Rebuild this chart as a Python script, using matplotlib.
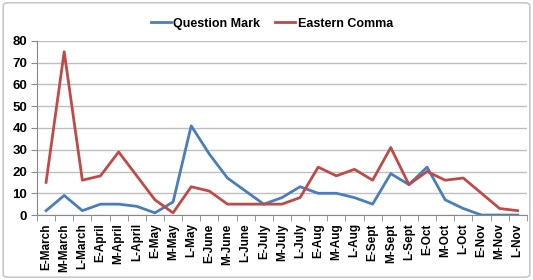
import matplotlib.pyplot as plt
from matplotlib.patches import FancyBboxPatch

periodos = ['E-March', 'M-March', 'L-March', 'E-April', 'M-April', 'L-April',
            'E-May', 'M-May', 'L-May', 'E-June', 'M-June', 'L-June',
            'E-July', 'M-July', 'L-July', 'E-Aug', 'M-Aug', 'L-Aug',
            'E-Sept', 'M-Sept', 'L-Sept', 'E-Oct', 'M-Oct', 'L-Oct',
            'E-Nov', 'M-Nov', 'L-Nov']
question_mark = [2, 9, 2, 5, 5, 4, 1, 6, 41, 28, 17, 11, 5, 8, 13, 10, 10, 8,
                 5, 19, 14, 22, 7, 3, 0, 0, 0]
eastern_comma = [15, 75, 16, 18, 29, 18, 7, 1, 13, 11, 5, 5, 5, 5, 8, 22, 18, 21,
                 16, 31, 14, 20, 16, 17, 10, 3, 2]

plt.rcParams['font.family'] = ['Liberation Sans', 'DejaVu Sans']
plt.rcParams['font.weight'] = 'bold'

fig = plt.figure(figsize=(5.33, 2.8), dpi=100)
# moldura cinza em volta do gráfico
fig.patches.append(FancyBboxPatch((0.006, 0.01), 0.988, 0.98, boxstyle='round,pad=0,rounding_size=0.01',
                                  transform=fig.transFigure, fill=False, edgecolor='#c8c8c8', linewidth=1.2))

ax = fig.add_axes([0.0694, 0.232, 0.919, 0.622])
x = range(len(periodos))
ax.plot(x, question_mark, color='#4a7ebb', linewidth=2, label='Question Mark')
ax.plot(x, eastern_comma, color='#be4b48', linewidth=2, label='Eastern Comma')

ax.set_xlim(-0.5, len(periodos) - 0.5)
ax.set_ylim(0, 80)
ax.set_yticks(range(0, 81, 10))
ax.set_xticks(list(x))
ax.set_xticklabels(periodos, rotation=90, fontsize=8.5, fontweight='bold')
ax.set_xticks([i - 0.5 for i in range(len(periodos) + 1)], minor=True)
ax.tick_params(axis='x', which='major', length=0, pad=6)
ax.tick_params(axis='x', which='minor', length=4, color='#888888')
ax.tick_params(axis='y', length=4, color='#888888', labelsize=9.5, pad=3)
for lbl in ax.get_yticklabels():
    lbl.set_fontweight('bold')

ax.grid(axis='y', color='#bfbfbf', linewidth=1)
ax.set_axisbelow(True)
for lado in ['top', 'right']:
    ax.spines[lado].set_visible(False)
ax.spines['left'].set_color('#888888')
ax.spines['bottom'].set_color('#888888')

fig.legend(loc='center', bbox_to_anchor=(0.51, 0.915), ncol=2, frameon=False,
           handlelength=1.6, handletextpad=0.2, columnspacing=1.2,
           prop={'weight': 'bold', 'size': 9})

plt.savefig('out.png', dpi=100)
